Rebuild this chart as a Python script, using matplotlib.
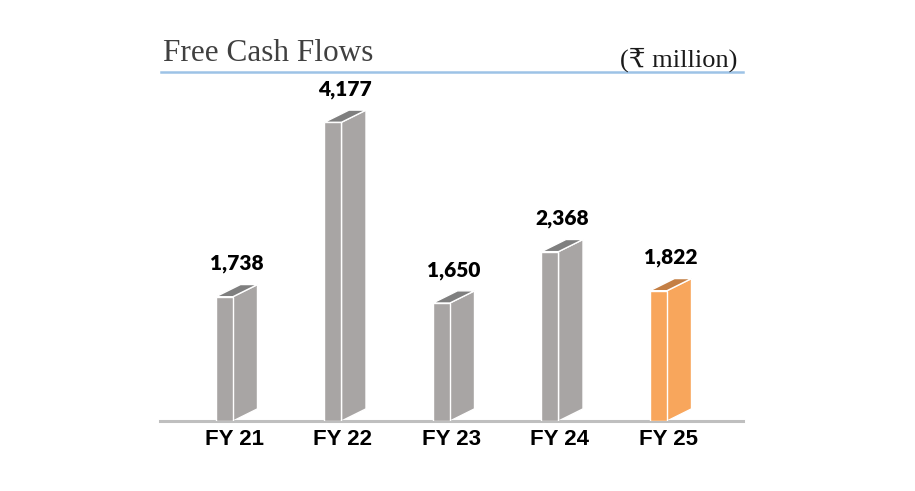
import matplotlib
matplotlib.use('Agg')
import matplotlib.pyplot as plt
from matplotlib.patches import Polygon
from matplotlib.lines import Line2D
import numpy as np

# 数据
years = ['FY 21', 'FY 22', 'FY 23', 'FY 24', 'FY 25']
fcf = [1738, 4177, 1650, 2368, 1822]
labels = ['1,738', '4,177', '1,650', '2,368', '1,822']

front_colors = ['#A8A5A4', '#A8A5A4', '#A8A5A4', '#A8A5A4', '#F8A65C']
top_colors = ['#7F7F7F', '#7F7F7F', '#7F7F7F', '#7F7F7F', '#C47F45']

fig = plt.figure(figsize=(9.15, 4.91), dpi=100)
W, H = 915.0, 491.0
ax = fig.add_axes([160 / W, 70 / H, 583 / W, 349 / H])

x = np.arange(len(years))
w = 0.157      # 正面宽度
dx = 0.226     # 立体深度(x方向)
dy = 170       # 立体深度(y方向)

ax.bar(x, fcf, width=w, color=front_colors, edgecolor='white', linewidth=1.0, zorder=3)
for xi, v, fc, tc, lab in zip(x, fcf, front_colors, top_colors, labels):
    # 侧面
    side = Polygon([(xi + w / 2, 0), (xi + w / 2 + dx, dy), (xi + w / 2 + dx, v + dy), (xi + w / 2, v)],
                   closed=True, facecolor=fc, edgecolor='white', linewidth=1.0, zorder=2)
    ax.add_patch(side)
    # 顶面
    top = Polygon([(xi - w / 2, v), (xi + w / 2, v), (xi + w / 2 + dx, v + dy), (xi - w / 2 + dx, v + dy)],
                  closed=True, facecolor=tc, edgecolor='white', linewidth=1.0, zorder=4)
    ax.add_patch(top)
    ax.annotate(lab, (xi + dx / 2, v + dy), xytext=(0, 8), textcoords='offset points',
                ha='center', va='bottom', fontsize=15, fontweight='heavy', family=['Lato', 'DejaVu Sans'],
                color='black')

ax.set_xlim(-0.594, 4.779)
ax.set_ylim(0, 4880)
ax.set_xticks(x + dx * 0.4)
ax.set_xticklabels(years, fontsize=16, fontweight='bold', family=['Liberation Sans', 'DejaVu Sans'])
ax.tick_params(axis='x', length=0, pad=6)
ax.set_yticks([])
for s in ['left', 'right', 'top']:
    ax.spines[s].set_visible(False)
ax.spines['bottom'].set_color('#BFBFBF')
ax.spines['bottom'].set_linewidth(2.2)

# 标题和单位
fig.text(163 / W, 1 - 61 / H, 'Free Cash Flows', ha='left', va='baseline', fontsize=22.5,
         family=['Liberation Serif', 'DejaVu Serif'], color='#404040')
fig.text(737 / W, 1 - 67 / H, '(₹ million)', ha='right', va='baseline', fontsize=19,
         family=['Liberation Serif', 'DejaVu Serif', 'DejaVu Sans', 'Noto Sans'], color='#1a1a1a')
fig.add_artist(Line2D([161 / W, 743 / W], [1 - 72 / H, 1 - 72 / H], color='#9DC3E6', linewidth=1.8))

fig.savefig('out.png', dpi=100)
